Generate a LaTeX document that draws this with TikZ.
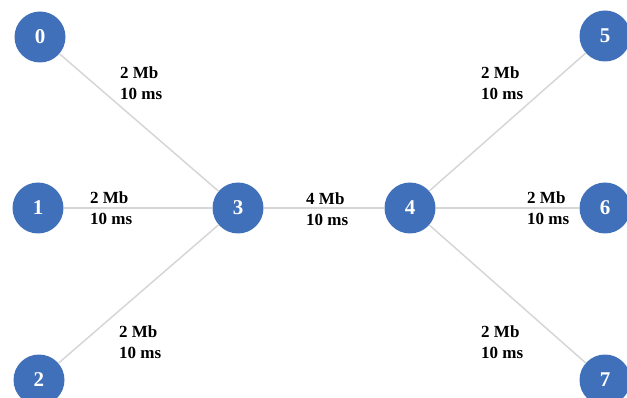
\documentclass[tikz,border=0pt]{standalone}
\usepackage{fontspec}
\setmainfont{Liberation Serif}
\usepackage{tikz}
\usetikzlibrary{shapes,arrows}
\definecolor{hostblue}{HTML}{4170BA}
\definecolor{linkgray}{HTML}{D6D6D6}
\tikzstyle{host} = [circle, fill=hostblue, text=white, minimum size=51pt,
    inner sep=0pt, font=\fontsize{21}{21}\selectfont\bfseries]
\tikzstyle{link} = [draw, linkgray, line width=1.5pt]
\tikzstyle{lbl} = [anchor=west, align=left, inner sep=0pt,
    font=\fontsize{17}{21}\selectfont\bfseries]

\begin{document}
\begin{tikzpicture}[x=1pt, y=-1pt]
\useasboundingbox (0,0) rectangle (627,398);
    % Place nodes
\node[host] (n0) at (40,37) {0};
\node[host] (n1) at (38,208) {1};
\node[host] (n2) at (39,380) {2};
\node[host] (n3) at (238,208) {3};
\node[host] (n4) at (410,208) {4};
\node[host] (n5) at (605,36) {5};
\node[host] (n6) at (605,208) {6};
\node[host] (n7) at (605,380) {7};

    % Place labels
\node[lbl] (b03) at (120,83) {2 Mb\\10 ms};
\node[lbl] (b13) at (90,208) {2 Mb\\10 ms};
\node[lbl] (b23) at (119,342) {2 Mb\\10 ms};
\node[lbl] (b34) at (306,209) {4 Mb\\10 ms};
\node[lbl] (b45) at (481,83) {2 Mb\\10 ms};
\node[lbl] (b46) at (527,208) {2 Mb\\10 ms};
\node[lbl] (b47) at (481,342) {2 Mb\\10 ms};

    % Draw edges
\path [link] (n0) -- (n3);
\path [link] (n1) -- (n3);
\path [link] (n2) -- (n3);
\path [link] (n3) -- (n4);
\path [link] (n4) -- (n5);
\path [link] (n4) -- (n6);
\path [link] (n4) -- (n7);

\end{tikzpicture}
\end{document}
